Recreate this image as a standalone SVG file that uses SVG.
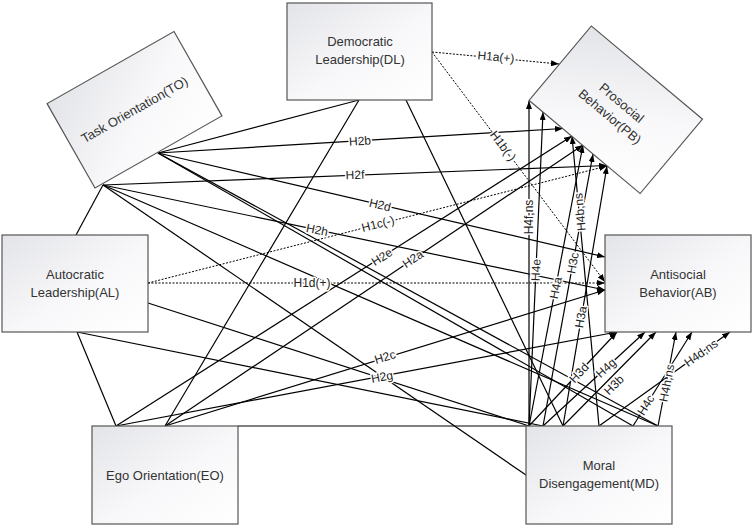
<svg xmlns="http://www.w3.org/2000/svg" width="754" height="527" viewBox="0 0 754 527">
<defs>
<linearGradient id="g" x1="0" y1="0" x2="1" y2="1">
<stop offset="0" stop-color="#e3e4e8"/>
<stop offset="0.55" stop-color="#f8f8fa"/>
<stop offset="1" stop-color="#ffffff"/>
</linearGradient>
<marker id="ah" viewBox="0 0 8 6" refX="8" refY="3" markerWidth="8" markerHeight="6" orient="auto" markerUnits="userSpaceOnUse" preserveAspectRatio="none">
<path d="M0,0 L8,3 L0,6 z" fill="#000"/>
</marker>
<style>
.box{fill:url(#g);stroke:#555;stroke-width:1.2}
.nt{font-family:"Liberation Sans",Arial,sans-serif;font-size:13px;fill:#333;text-anchor:middle}
.ln{stroke:#000;stroke-width:1.2;fill:none}
.ar{stroke:#000;stroke-width:1.2;fill:none;marker-end:url(#ah)}
.dt{stroke:#000;stroke-width:1;fill:none;stroke-dasharray:2,1.5;marker-end:url(#ah)}
.lb{font-family:"Liberation Sans",Arial,sans-serif;font-size:12px;fill:#222;text-anchor:middle;stroke:#fff;stroke-width:3;paint-order:stroke;stroke-linejoin:round}
</style>
</defs>
<rect width="754" height="527" fill="#fff"/>
<g id="connectors">
<line class="ln" x1="158" y1="153" x2="359" y2="100"/>
<line class="ln" x1="103" y1="185" x2="76" y2="235"/>
<line class="ln" x1="77" y1="332" x2="116" y2="426"/>
<line class="ln" x1="359" y1="100" x2="165" y2="426"/>
<line class="ln" x1="158" y1="153" x2="633" y2="426"/>
<line class="ln" x1="158" y1="153" x2="658" y2="426"/>
<line class="ln" x1="103" y1="185" x2="658" y2="426"/>
<line class="ln" x1="103" y1="185" x2="526" y2="475"/>
<line class="ln" x1="406" y1="100" x2="563" y2="426"/>
<line class="ln" x1="148" y1="303" x2="529" y2="426"/>
<line class="ln" x1="77" y1="332" x2="543" y2="426"/>
<line class="ln" x1="238" y1="426" x2="526" y2="426"/>
<line class="dt" x1="432" y1="52" x2="559" y2="64"/>
<line class="dt" x1="432" y1="52" x2="605" y2="282"/>
<line class="dt" x1="148" y1="283" x2="607" y2="166"/>
<line class="dt" x1="148" y1="283" x2="605" y2="283"/>
<line class="ar" x1="158" y1="153" x2="563" y2="128.5"/>
<line class="ar" x1="103" y1="185" x2="607" y2="165.5"/>
<line class="ar" x1="158" y1="153" x2="605" y2="257"/>
<line class="ar" x1="103" y1="185" x2="605" y2="290"/>
<line class="ar" x1="116" y1="426" x2="572" y2="136"/>
<line class="ar" x1="165" y1="426" x2="583" y2="145"/>
<line class="ar" x1="165" y1="426" x2="605" y2="290"/>
<line class="ar" x1="116" y1="426" x2="617" y2="332"/>
<line class="ar" x1="529" y1="426" x2="529" y2="101"/>
<line class="ar" x1="529" y1="426" x2="543" y2="112"/>
<line class="ar" x1="529" y1="426" x2="583" y2="145"/>
<line class="ar" x1="543" y1="426" x2="593" y2="154"/>
<line class="ar" x1="599" y1="426" x2="572" y2="136"/>
<line class="ar" x1="563" y1="426" x2="607" y2="166"/>
<line class="ar" x1="529" y1="426" x2="617" y2="332"/>
<line class="ar" x1="543" y1="426" x2="645" y2="332"/>
<line class="ar" x1="563" y1="426" x2="656" y2="332"/>
<line class="ar" x1="658" y1="426" x2="676" y2="332"/>
<line class="ar" x1="633" y1="426" x2="692" y2="332"/>
<line class="ar" x1="599" y1="426" x2="730" y2="332"/>
<text class="lb" transform="translate(496,57) rotate(5.4)" dy="4">H1a(+)</text>
<text class="lb" transform="translate(503,146) rotate(53)" dy="4">H1b(-)</text>
<text class="lb" transform="translate(378,224) rotate(-14.3)" dy="4">H1c(-)</text>
<text class="lb" transform="translate(312,283)" dy="4">H1d(+)</text>
<text class="lb" transform="translate(360,141) rotate(-3.5)" dy="4">H2b</text>
<text class="lb" transform="translate(355,175) rotate(-2.2)" dy="4">H2f</text>
<text class="lb" transform="translate(380,205) rotate(13.1)" dy="4">H2d</text>
<text class="lb" transform="translate(317,230) rotate(11.8)" dy="4">H2h</text>
<text class="lb" transform="translate(382,257) rotate(-32.5)" dy="4">H2e</text>
<text class="lb" transform="translate(413,259) rotate(-33.9)" dy="4">H2a</text>
<text class="lb" transform="translate(385,357) rotate(-17.2)" dy="4">H2c</text>
<text class="lb" transform="translate(382,377) rotate(-10.6)" dy="4">H2g</text>
<text class="lb" transform="translate(529,217) rotate(-90)" dy="4">H4f,ns</text>
<text class="lb" transform="translate(536,270) rotate(-87.4)" dy="4">H4e</text>
<text class="lb" transform="translate(556,288) rotate(-79.1)" dy="4">H4a</text>
<text class="lb" transform="translate(573,263) rotate(-79.6)" dy="4">H3c</text>
<text class="lb" transform="translate(580,212) rotate(-95.3)" dy="4">H4b,ns</text>
<text class="lb" transform="translate(581,317) rotate(-80.4)" dy="4">H3a</text>
<text class="lb" transform="translate(579,373) rotate(-46.9)" dy="4">H3d</text>
<text class="lb" transform="translate(606,368) rotate(-42.6)" dy="4">H4g</text>
<text class="lb" transform="translate(614,385) rotate(-45.3)" dy="4">H3b</text>
<text class="lb" transform="translate(646,405) rotate(-57.9)" dy="4">H4c</text>
<text class="lb" transform="translate(667,383) rotate(-79.2)" dy="4">H4h,ns</text>
<text class="lb" transform="translate(701,353) rotate(-35.7)" dy="4">H4d,ns</text>
</g>
<g id="DL">
<rect class="box" x="287" y="3" width="145" height="97"/>
<text class="nt" x="360" y="46">Democratic</text>
<text class="nt" x="360" y="64">Leadership(DL)</text>
</g>
<g id="TO" transform="translate(134.5,109.75) rotate(-29.6)">
<rect class="box" x="-73" y="-48.5" width="146" height="97"/>
<text class="nt" x="0" y="4.5">Task Orientation(TO)</text>
</g>
<g id="PB" transform="translate(615.75,109.75) rotate(40)">
<rect class="box" x="-72.5" y="-48.5" width="145" height="97"/>
<text class="nt" x="0" y="-4.5">Prosocial</text>
<text class="nt" x="0" y="13.5">Behavior(PB)</text>
</g>
<g id="AL">
<rect class="box" x="2" y="235" width="146" height="97"/>
<text class="nt" x="75" y="279">Autocratic</text>
<text class="nt" x="75" y="297">Leadership(AL)</text>
</g>
<g id="AB">
<rect class="box" x="605" y="235" width="146" height="97"/>
<text class="nt" x="678" y="279">Antisocial</text>
<text class="nt" x="678" y="297">Behavior(AB)</text>
</g>
<g id="EO">
<rect class="box" x="92" y="426" width="146" height="98"/>
<text class="nt" x="165" y="480">Ego Orientation(EO)</text>
</g>
<g id="MD">
<rect class="box" x="526" y="426" width="146" height="98"/>
<text class="nt" x="599" y="470">Moral</text>
<text class="nt" x="599" y="488">Disengagement(MD)</text>
</g>
</svg>
